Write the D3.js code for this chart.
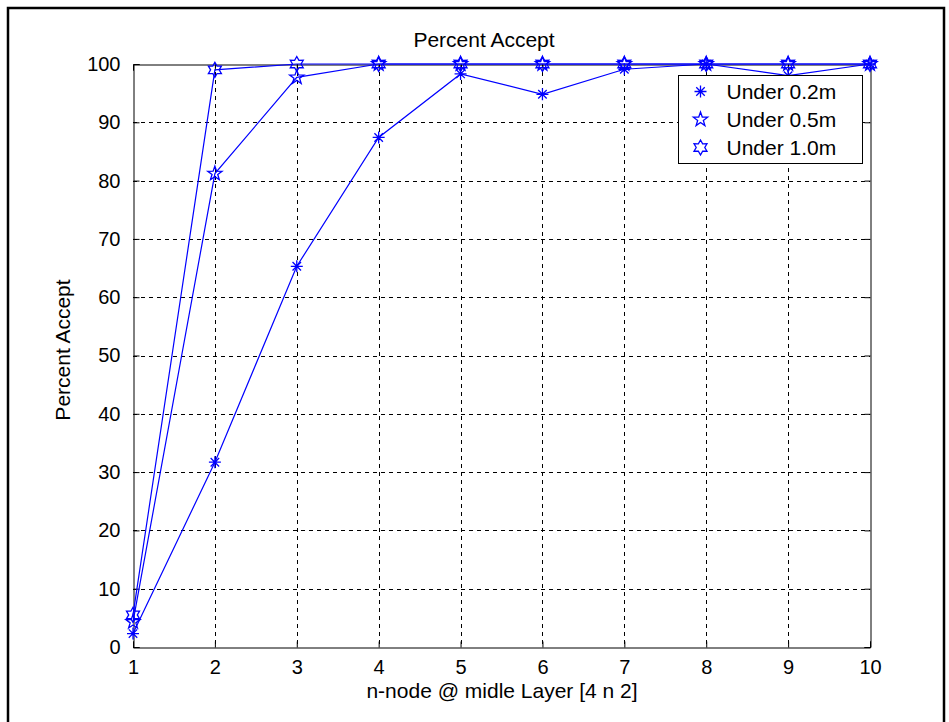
<!DOCTYPE html>
<html>
<head>
<meta charset="utf-8">
<script src="https://cdn.jsdelivr.net/npm/d3@7/dist/d3.min.js"></script>
<style>
  body { margin: 0; background: #fff; }
  svg { display: block; }
  text { font-family: "Liberation Sans", Arial, sans-serif; fill: #000; }
</style>
</head>
<body>
<svg id="chart" width="949" height="722"></svg>
<script>
// Number of nodes in the middle layer
const nodes = [1, 2, 3, 4, 5, 6, 7, 8, 9, 10];
// Percent of accepted results per error threshold
const under02 = [2.3, 31.7, 65.3, 87.4, 98.3, 94.8, 99.1, 100, 98.0, 100];
const under05 = [4.3, 81.2, 97.7, 100, 100, 100, 100, 100, 100, 100];
const under10 = [5.5, 99.0, 100, 100, 100, 100, 100, 100, 100, 100];
const seriesNames = ["Under 0.2m", "Under 0.5m", "Under 1.0m"];
const markerKinds = ["asterisk", "pentagram", "hexagram"];
const xTicks = [1, 2, 3, 4, 5, 6, 7, 8, 9, 10];
const yTicks = [0, 10, 20, 30, 40, 50, 60, 70, 80, 90, 100];

const svg = d3.select("#chart");
const blue = "#0000ff";
const plot = { left: 133, right: 870, top: 64, bottom: 647 };

const x = d3.scaleLinear().domain([1, 10]).range([plot.left, plot.right]);
const y = d3.scaleLinear().domain([0, 100]).range([plot.bottom, plot.top]);

// Outer frame of the figure
svg.append("path")
  .attr("d", "M8,730 V8 H944 V730")
  .attr("fill", "none").attr("stroke", "#000").attr("stroke-width", 2.5);

// Dashed grid
const grid = svg.append("g").attr("stroke", "#000").attr("stroke-width", 1)
  .attr("stroke-dasharray", "4,4");
grid.selectAll(".gx").data(xTicks.slice(1, -1)).join("line")
  .attr("x1", d => Math.round(x(d)) + 0.5).attr("x2", d => Math.round(x(d)) + 0.5)
  .attr("y1", plot.top).attr("y2", plot.bottom);
grid.selectAll(".gy").data(yTicks.slice(1, -1)).join("line")
  .attr("y1", d => Math.round(y(d)) + 0.5).attr("y2", d => Math.round(y(d)) + 0.5)
  .attr("x1", plot.left).attr("x2", plot.right);

// Axes with inward ticks
const xAxis = d3.axisBottom(x).tickValues(xTicks).tickSize(-6).tickPadding(12)
  .tickFormat(d3.format("d"));
const yAxis = d3.axisLeft(y).tickValues(yTicks).tickSize(-6).tickPadding(13)
  .tickFormat(d3.format("d"));
const xTop = d3.axisTop(x).tickValues(xTicks).tickSize(-6).tickFormat("");
const yRight = d3.axisRight(y).tickValues(yTicks).tickSize(-6).tickFormat("");

function styleAxis(g) {
  g.select(".domain").attr("stroke", "#000").attr("stroke-width", 1);
  g.selectAll(".tick line").attr("stroke", "#000");
  g.selectAll(".tick text").attr("font-size", 20).attr("fill", "#000")
    .attr("font-family", "'Liberation Sans', Arial, sans-serif");
}
svg.append("g").attr("transform", `translate(0,${plot.bottom + 0.5})`).call(xAxis).call(styleAxis);
svg.append("g").attr("transform", `translate(${plot.left + 0.5},0)`).call(yAxis).call(styleAxis);
svg.append("g").attr("transform", `translate(0,${plot.top + 0.5})`).call(xTop).call(styleAxis);
svg.append("g").attr("transform", `translate(${plot.right + 0.5},0)`).call(yRight).call(styleAxis);

// Marker shapes
function starPath(points, rOuter, rInner) {
  const pts = [];
  for (let i = 0; i < points * 2; i++) {
    const r = i % 2 === 0 ? rOuter : rInner;
    const a = -Math.PI / 2 + i * Math.PI / points;
    pts.push([r * Math.cos(a), r * Math.sin(a)]);
  }
  return "M" + pts.map(p => p[0].toFixed(2) + "," + p[1].toFixed(2)).join("L") + "Z";
}
function asteriskPath(r) {
  const d = r * Math.SQRT1_2;
  return `M${-r},0H${r}M0,${-r}V${r}M${-d},${-d}L${d},${d}M${-d},${d}L${d},${-d}`;
}
const markerPaths = {
  asterisk: asteriskPath(6),
  pentagram: starPath(5, 7.5, 3),
  hexagram: starPath(6, 7.5, 4.3)
};

const allSeries = [under02, under05, under10];
const line = d3.line().x((d, i) => x(nodes[i])).y(d => y(d));

allSeries.forEach((vals, s) => {
  const g = svg.append("g");
  g.append("path").datum(vals).attr("d", line)
    .attr("fill", "none").attr("stroke", blue).attr("stroke-width", 1.2);
  g.selectAll("path.m").data(vals).join("path").attr("class", "m")
    .attr("transform", (d, i) => `translate(${x(nodes[i])},${y(d)})`)
    .attr("d", markerPaths[markerKinds[s]])
    .attr("fill", "none").attr("stroke", blue).attr("stroke-width", 1.3);
});

// Legend
const legend = svg.append("g").attr("transform", "translate(678.5,75.5)");
legend.append("rect").attr("width", 184).attr("height", 88)
  .attr("fill", "#fff").attr("stroke", "#000").attr("stroke-width", 1);
seriesNames.forEach((name, i) => {
  const cy = 16 + i * 28;
  legend.append("path").attr("transform", `translate(22,${cy})`)
    .attr("d", markerPaths[markerKinds[i]])
    .attr("fill", "none").attr("stroke", blue).attr("stroke-width", 1.3);
  legend.append("text").attr("x", 48).attr("y", cy).attr("dy", "0.36em")
    .attr("font-size", 21).text(name);
});

// Titles
svg.append("text").attr("x", 484).attr("y", 47).attr("text-anchor", "middle")
  .attr("font-size", 21).text("Percent Accept");
svg.append("text").attr("x", 502).attr("y", 698).attr("text-anchor", "middle")
  .attr("font-size", 21).text("n-node @ midle Layer [4 n 2]");
svg.append("text").attr("transform", "translate(70,350) rotate(-90)")
  .attr("text-anchor", "middle").attr("font-size", 21).text("Percent Accept");
</script>
</body>
</html>
